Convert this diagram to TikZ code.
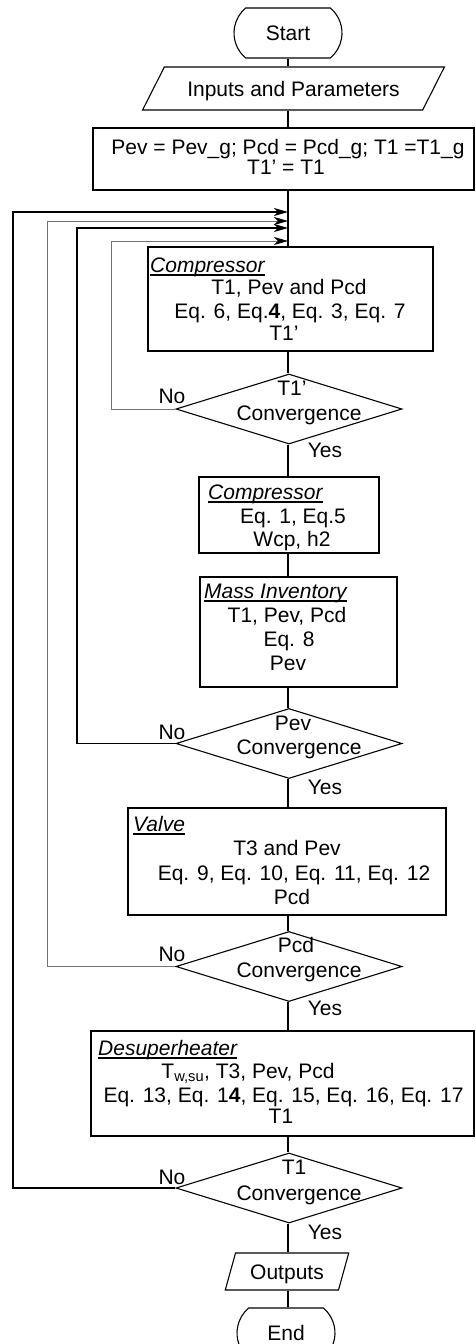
\documentclass[tikz,border=0pt]{standalone}
\usepackage{fontspec}
\setmainfont{Liberation Sans}
\usetikzlibrary{shapes.geometric,shapes.misc,arrows.meta}
\newcommand\hdul[1]{\setbox0\hbox{#1}\rlap{\rule[-3pt]{\wd0}{1.6pt}}\box0}
\begin{document}
\begin{tikzpicture}[x=1pt,y=-1pt,
  every node/.style={font=\fontsize{21}{24}\selectfont, inner sep=0pt},
  ln/.style={line width=1.1pt, black},
  lg/.style={line width=0.9pt, black!55},
  box/.style={draw, line width=1.1pt, rectangle, inner sep=0pt},
  term/.style={draw, line width=1.1pt, rounded rectangle, rounded rectangle arc length=100, minimum height=50pt, text height=15pt, text depth=0pt},
  io/.style={draw, line width=1.1pt, trapezium, trapezium stretches=true, text height=15pt, text depth=0pt},
  dec/.style={draw, line width=1.1pt, diamond, minimum width=226pt, minimum height=70pt},
  tl/.style={anchor=base},
  hd/.style={anchor=base west, font=\fontsize{21}{24}\selectfont\itshape},
  arr/.style={-{Stealth[length=14pt,width=8pt,inset=4pt,color=black]}},
]
\useasboundingbox (0,0) rectangle (475,1344);
\clip (0,0) rectangle (475,1344);
\coordinate (ax) at (288,0);

% terminals and I/O
\node[term, minimum width=108pt] (start) at (288,33) {Start};
\node[io, minimum width=303pt, minimum height=43pt, trapezium left angle=40, trapezium right angle=140] (inp) at (293.5,88.5) {Inputs and Parameters};

% init box
\node[box, minimum width=381pt, minimum height=62pt] (init) at (283.5,159) {};
\node[tl] (inita) at (288,154.5) {Pev = Pev\_g; Pcd = Pcd\_g; T1 =T1\_g};
\node[tl] (initb) at (286,174.5) {T1' = T1};

% compressor 1
\node[box, minimum width=285pt, minimum height=104pt] (c1) at (290.5,299) {};
\node[hd] (c1h) at (150,272.5) {\hdul{Compressor}};
\node[tl] (c1a) at (289,294.5) {T1, Pev and Pcd};
\node[tl] (c1b) at (290,318.5) {Eq. 6, Eq.\textbf{4}, Eq. 3, Eq. 7};
\node[tl] (c1c) at (284,340.5) {T1'};

% decision 1
\node[dec] (d1) at (289,409) {};
\node[tl] (d1a) at (292,395.5) {T1'};
\node[tl] (d1b) at (299,420.5) {Convergence};
\node[tl] (d1n) at (172,403.5) {No};
\node[tl] (d1y) at (325,457.5) {Yes};

% compressor 2
\node[box, minimum width=180pt, minimum height=76pt] (c2) at (289,515) {};
\node[hd] (c2h) at (208,499.5) {\hdul{Compressor}};
\node[tl] (c2a) at (293,523.5) {Eq. 1, Eq.5};
\node[tl] (c2b) at (292,546.5) {Wcp, h2};

% mass inventory
\node[box, minimum width=197pt, minimum height=110pt] (mass) at (298.5,632) {};
\node[hd] (massh) at (204,598.5) {\hdul{Mass Inventory}};
\node[tl] (massa) at (287,622.5) {T1, Pev, Pcd};
\node[tl] (massb) at (289,646.5) {Eq. 8};
\node[tl] (massc) at (288,670.5) {Pev};

% decision 2
\node[dec] (d2) at (289,743.5) {};
\node[tl] (d2a) at (293,730.5) {Pev};
\node[tl] (d2b) at (299,754.5) {Convergence};
\node[tl] (d2n) at (172,739.5) {No};
\node[tl] (d2y) at (325,794.5) {Yes};

% valve
\node[box, minimum width=318pt, minimum height=107pt] (valve) at (287,861.5) {};
\node[hd] (valveh) at (133,831.5) {\hdul{Valve}};
\node[tl] (valvea) at (287,855.5) {T3 and Pev};
\node[tl] (valveb) at (294,880.5) {Eq. 9, Eq. 10, Eq. 11, Eq. 12};
\node[tl] (valvec) at (292,904.5) {Pcd};

% decision 3
\node[dec] (d3) at (289,966.5) {};
\node[tl] (d3a) at (296,952.5) {Pcd};
\node[tl] (d3b) at (299,977.5) {Convergence};
\node[tl] (d3n) at (172,961.5) {No};
\node[tl] (d3y) at (325,1015.5) {Yes};

% desuperheater
\node[box, minimum width=383pt, minimum height=105pt] (desup) at (282.5,1083.5) {};
\node[hd] (desuph) at (98,1055.5) {\hdul{Desuperheater}};
\node[tl] (desupa) at (248,1078.5) {T\textsubscript{w,su}, T3, Pev, Pcd};
\node[tl] (desupb) at (283.5,1102.5) {Eq. 13, Eq. 1\textbf{4}, Eq. 15, Eq. 16, Eq. 17};
\node[tl] (desupc) at (281,1123.5) {T1};

% decision 4
\node[dec] (d4) at (289,1188) {};
\node[tl] (d4a) at (294,1174.5) {T1};
\node[tl] (d4b) at (299,1200.5) {Convergence};
\node[tl] (d4n) at (172,1184.5) {No};
\node[tl] (d4y) at (325,1239.5) {Yes};

% outputs / end
\node[io, minimum width=124pt, minimum height=37pt, trapezium left angle=64, trapezium right angle=116] (out) at (287,1271.5) {Outputs};
\node[term, minimum width=98pt] (end) at (286,1333) {End};

% main axis
\draw[ln] (start.south -| ax) -- (inp.north -| ax);
\draw[ln] (inp.south -| ax) -- (init.north -| ax);
\draw[ln] (init.south -| ax) -- (c1.north -| ax);
\draw[ln] (c1.south -| ax) -- (d1.north -| ax);
\draw[ln] (d1.south -| ax) -- (c2.north -| ax);
\draw[ln] (c2.south -| ax) -- (mass.north -| ax);
\draw[ln] (mass.south -| ax) -- (d2.north -| ax);
\draw[ln] (d2.south -| ax) -- (valve.north -| ax);
\draw[ln] (valve.south -| ax) -- (d3.north -| ax);
\draw[ln] (d3.south -| ax) -- (desup.north -| ax);
\draw[ln] (desup.south -| ax) -- (d4.north -| ax);
\draw[ln] (d4.south -| ax) -- (out.north -| ax);
\draw[ln] (out.south -| ax) -- (end.north -| ax);

% feedback loops
\coordinate (j4) at (288,212);
\coordinate (j3) at (288,221);
\coordinate (j2) at (288,228);
\coordinate (j1) at (288,241);
\coordinate (l4) at (13,0);
\coordinate (l3) at (47,0);
\coordinate (l2) at (77,0);
\coordinate (l1) at (111,0);
\draw[lg, arr] (d1.west) -- (d1.west -| l1) |- (j1);
\draw[ln, arr] (d2.west) -- (d2.west -| l2) |- (j2);
\draw[lg, arr] (d3.west) -- (d3.west -| l3) |- (j3);
\draw[ln, arr] (d4.west) -- (d4.west -| l4) |- (j4);
\end{tikzpicture}
\end{document}
